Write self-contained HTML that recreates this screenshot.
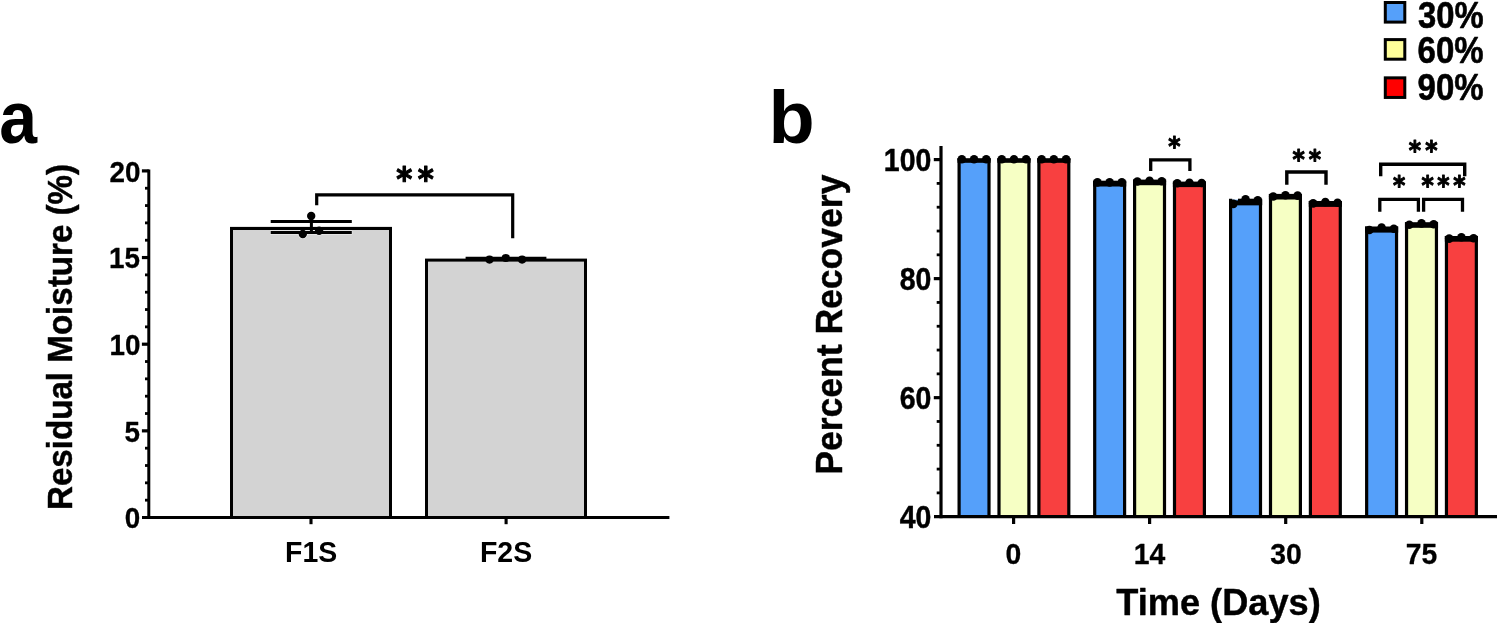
<!DOCTYPE html>
<html lang="en"><head><meta charset="utf-8"><title>Figure</title>
<style>html,body{margin:0;padding:0;background:#fff;}body{width:1497px;height:623px;overflow:hidden;}svg{display:block;}text{font-family:"Liberation Sans", sans-serif;font-weight:700;fill:#000;}text.dj{font-family:"DejaVu Sans", "Liberation Sans", sans-serif;}</style>
</head><body>
<svg width="1497" height="623" viewBox="0 0 1497 623">
<rect x="0.00" y="0.00" width="1497.00" height="623.00" fill="#ffffff"/>
<text transform="translate(-0.77,143.05) scale(0.9190,1)" font-size="74">a</text>
<text transform="translate(72.30,510.03) rotate(-90) scale(0.9636,1)" font-size="34.4" stroke="#000" stroke-linejoin="round" stroke-width="0.45">Residual Moisture (%)</text>
<rect x="231.50" y="228.40" width="159.00" height="289.10" fill="#d3d3d3" stroke="#000" stroke-width="3.00"/>
<rect x="426.50" y="260.10" width="159.00" height="257.40" fill="#d3d3d3" stroke="#000" stroke-width="3.00"/>
<line x1="148.80" y1="169.40" x2="148.80" y2="519.00" stroke="#000" stroke-width="3.00" stroke-linecap="butt"/>
<line x1="142.00" y1="517.50" x2="669.40" y2="517.50" stroke="#000" stroke-width="3.00" stroke-linecap="butt"/>
<line x1="145.00" y1="500.17" x2="148.80" y2="500.17" stroke="#000" stroke-width="2.80" stroke-linecap="butt"/>
<line x1="145.00" y1="482.84" x2="148.80" y2="482.84" stroke="#000" stroke-width="2.80" stroke-linecap="butt"/>
<line x1="145.00" y1="465.51" x2="148.80" y2="465.51" stroke="#000" stroke-width="2.80" stroke-linecap="butt"/>
<line x1="145.00" y1="448.18" x2="148.80" y2="448.18" stroke="#000" stroke-width="2.80" stroke-linecap="butt"/>
<line x1="141.90" y1="430.85" x2="148.80" y2="430.85" stroke="#000" stroke-width="3.20" stroke-linecap="butt"/>
<line x1="145.00" y1="413.52" x2="148.80" y2="413.52" stroke="#000" stroke-width="2.80" stroke-linecap="butt"/>
<line x1="145.00" y1="396.19" x2="148.80" y2="396.19" stroke="#000" stroke-width="2.80" stroke-linecap="butt"/>
<line x1="145.00" y1="378.86" x2="148.80" y2="378.86" stroke="#000" stroke-width="2.80" stroke-linecap="butt"/>
<line x1="145.00" y1="361.53" x2="148.80" y2="361.53" stroke="#000" stroke-width="2.80" stroke-linecap="butt"/>
<line x1="141.90" y1="344.20" x2="148.80" y2="344.20" stroke="#000" stroke-width="3.20" stroke-linecap="butt"/>
<line x1="145.00" y1="326.87" x2="148.80" y2="326.87" stroke="#000" stroke-width="2.80" stroke-linecap="butt"/>
<line x1="145.00" y1="309.54" x2="148.80" y2="309.54" stroke="#000" stroke-width="2.80" stroke-linecap="butt"/>
<line x1="145.00" y1="292.21" x2="148.80" y2="292.21" stroke="#000" stroke-width="2.80" stroke-linecap="butt"/>
<line x1="145.00" y1="274.88" x2="148.80" y2="274.88" stroke="#000" stroke-width="2.80" stroke-linecap="butt"/>
<line x1="141.90" y1="257.55" x2="148.80" y2="257.55" stroke="#000" stroke-width="3.20" stroke-linecap="butt"/>
<line x1="145.00" y1="240.22" x2="148.80" y2="240.22" stroke="#000" stroke-width="2.80" stroke-linecap="butt"/>
<line x1="145.00" y1="222.89" x2="148.80" y2="222.89" stroke="#000" stroke-width="2.80" stroke-linecap="butt"/>
<line x1="145.00" y1="205.56" x2="148.80" y2="205.56" stroke="#000" stroke-width="2.80" stroke-linecap="butt"/>
<line x1="145.00" y1="188.23" x2="148.80" y2="188.23" stroke="#000" stroke-width="2.80" stroke-linecap="butt"/>
<line x1="141.90" y1="170.90" x2="148.80" y2="170.90" stroke="#000" stroke-width="3.20" stroke-linecap="butt"/>
<text transform="translate(124.83,528.33) scale(0.9400,1)" font-size="29.6" stroke="#000" stroke-linejoin="round" stroke-width="0.30">0</text>
<text transform="translate(124.60,441.55) scale(0.9400,1)" font-size="29.6" stroke="#000" stroke-linejoin="round" stroke-width="0.30">5</text>
<text transform="translate(109.56,355.02) scale(0.9400,1)" font-size="29.6" stroke="#000" stroke-linejoin="round" stroke-width="0.30">10</text>
<text transform="translate(109.09,268.25) scale(0.9400,1)" font-size="29.6" stroke="#000" stroke-linejoin="round" stroke-width="0.30">15</text>
<text transform="translate(109.56,181.72) scale(0.9400,1)" font-size="29.6" stroke="#000" stroke-linejoin="round" stroke-width="0.30">20</text>
<line x1="311.00" y1="517.50" x2="311.00" y2="524.20" stroke="#000" stroke-width="3.10" stroke-linecap="butt"/>
<line x1="506.10" y1="517.50" x2="506.10" y2="524.20" stroke="#000" stroke-width="3.10" stroke-linecap="butt"/>
<text transform="translate(285.07,561.80) scale(0.9675,1)" font-size="29.4">F1S</text>
<text transform="translate(479.96,561.80) scale(0.9695,1)" font-size="29.4">F2S</text>
<line x1="270.20" y1="232.50" x2="352.30" y2="232.50" stroke="#f4f4f4" stroke-width="4.20" stroke-linecap="butt"/>
<circle cx="302.80" cy="234.00" r="4.80" fill="#f4f4f4"/>
<circle cx="319.10" cy="230.80" r="4.80" fill="#f4f4f4"/>
<line x1="230.00" y1="228.40" x2="392.00" y2="228.40" stroke="#000" stroke-width="3.00" stroke-linecap="butt"/>
<line x1="270.70" y1="221.50" x2="351.80" y2="221.50" stroke="#000" stroke-width="3.00" stroke-linecap="butt"/>
<line x1="270.70" y1="232.50" x2="351.80" y2="232.50" stroke="#000" stroke-width="3.00" stroke-linecap="butt"/>
<line x1="311.40" y1="221.50" x2="311.40" y2="232.50" stroke="#000" stroke-width="3.00" stroke-linecap="butt"/>
<circle cx="311.20" cy="216.00" r="4.20" fill="#000"/>
<circle cx="302.80" cy="234.00" r="4.20" fill="#000"/>
<circle cx="319.10" cy="230.80" r="4.20" fill="#000"/>
<line x1="465.60" y1="258.30" x2="546.40" y2="258.30" stroke="#000" stroke-width="3.20" stroke-linecap="butt"/>
<circle cx="489.50" cy="259.60" r="4.10" fill="#000"/>
<circle cx="505.80" cy="258.00" r="4.10" fill="#000"/>
<circle cx="522.10" cy="259.60" r="4.10" fill="#000"/>
<path d="M316.70 205.20 L316.70 194.90 L512.70 194.90 L512.70 238.20" fill="none" stroke="#000" stroke-width="3.20" stroke-linejoin="miter"/>
<text transform="translate(396.17,191.38) scale(0.9130,1)" font-size="33.6" letter-spacing="5.99" stroke="#000" stroke-linejoin="round" stroke-width="1.10" class="dj">**</text>
<text transform="translate(768.59,143.45) scale(1.0228,1)" font-size="74.0">b</text>
<text transform="translate(842.30,474.81) rotate(-90) scale(0.9822,1)" font-size="36.2" stroke="#000" stroke-linejoin="round" stroke-width="0.45">Percent Recovery</text>
<rect x="958.50" y="159.20" width="31.10" height="357.50" fill="#55a0fa"/>
<line x1="959.10" y1="158.20" x2="959.10" y2="516.70" stroke="#000" stroke-width="3.20" stroke-linecap="butt"/>
<line x1="989.00" y1="158.20" x2="989.00" y2="516.70" stroke="#000" stroke-width="3.20" stroke-linecap="butt"/>
<rect x="957.50" y="158.20" width="33.10" height="4.60" fill="#000"/>
<circle cx="961.85" cy="159.30" r="4.30" fill="#000"/>
<circle cx="974.05" cy="159.30" r="4.30" fill="#000"/>
<circle cx="986.25" cy="159.30" r="4.30" fill="#000"/>
<rect x="998.40" y="159.20" width="31.10" height="357.50" fill="#f6ffc4"/>
<line x1="999.00" y1="158.20" x2="999.00" y2="516.70" stroke="#000" stroke-width="3.20" stroke-linecap="butt"/>
<line x1="1028.90" y1="158.20" x2="1028.90" y2="516.70" stroke="#000" stroke-width="3.20" stroke-linecap="butt"/>
<rect x="997.40" y="158.20" width="33.10" height="4.60" fill="#000"/>
<circle cx="1001.75" cy="159.30" r="4.30" fill="#000"/>
<circle cx="1013.95" cy="159.30" r="4.30" fill="#000"/>
<circle cx="1026.15" cy="159.30" r="4.30" fill="#000"/>
<rect x="1038.30" y="159.20" width="31.10" height="357.50" fill="#f84040"/>
<line x1="1038.90" y1="158.20" x2="1038.90" y2="516.70" stroke="#000" stroke-width="3.20" stroke-linecap="butt"/>
<line x1="1068.80" y1="158.20" x2="1068.80" y2="516.70" stroke="#000" stroke-width="3.20" stroke-linecap="butt"/>
<rect x="1037.30" y="158.20" width="33.10" height="4.60" fill="#000"/>
<circle cx="1041.65" cy="159.30" r="4.30" fill="#000"/>
<circle cx="1053.85" cy="159.30" r="4.30" fill="#000"/>
<circle cx="1066.05" cy="159.30" r="4.30" fill="#000"/>
<rect x="1094.10" y="181.70" width="31.10" height="335.00" fill="#55a0fa"/>
<line x1="1094.70" y1="180.70" x2="1094.70" y2="516.70" stroke="#000" stroke-width="3.20" stroke-linecap="butt"/>
<line x1="1124.60" y1="180.70" x2="1124.60" y2="516.70" stroke="#000" stroke-width="3.20" stroke-linecap="butt"/>
<rect x="1093.10" y="180.70" width="33.10" height="5.80" fill="#000"/>
<circle cx="1097.45" cy="182.40" r="4.30" fill="#000"/>
<circle cx="1109.65" cy="182.40" r="4.30" fill="#000"/>
<circle cx="1121.85" cy="182.40" r="4.30" fill="#000"/>
<rect x="1134.00" y="180.60" width="31.10" height="336.10" fill="#f6ffc4"/>
<line x1="1134.60" y1="179.60" x2="1134.60" y2="516.70" stroke="#000" stroke-width="3.20" stroke-linecap="butt"/>
<line x1="1164.50" y1="179.60" x2="1164.50" y2="516.70" stroke="#000" stroke-width="3.20" stroke-linecap="butt"/>
<rect x="1133.00" y="179.60" width="33.10" height="5.60" fill="#000"/>
<circle cx="1137.35" cy="181.50" r="4.30" fill="#000"/>
<circle cx="1149.55" cy="180.80" r="4.30" fill="#000"/>
<circle cx="1161.75" cy="181.30" r="4.30" fill="#000"/>
<rect x="1173.90" y="182.60" width="31.10" height="334.10" fill="#f84040"/>
<line x1="1174.50" y1="181.60" x2="1174.50" y2="516.70" stroke="#000" stroke-width="3.20" stroke-linecap="butt"/>
<line x1="1204.40" y1="181.60" x2="1204.40" y2="516.70" stroke="#000" stroke-width="3.20" stroke-linecap="butt"/>
<rect x="1172.90" y="181.60" width="33.10" height="5.50" fill="#000"/>
<circle cx="1177.25" cy="183.30" r="4.30" fill="#000"/>
<circle cx="1189.45" cy="182.80" r="4.30" fill="#000"/>
<circle cx="1201.65" cy="183.00" r="4.30" fill="#000"/>
<rect x="1230.00" y="199.70" width="31.10" height="317.00" fill="#55a0fa"/>
<line x1="1230.60" y1="198.70" x2="1230.60" y2="516.70" stroke="#000" stroke-width="3.20" stroke-linecap="butt"/>
<line x1="1260.50" y1="198.70" x2="1260.50" y2="516.70" stroke="#000" stroke-width="3.20" stroke-linecap="butt"/>
<rect x="1238.00" y="198.70" width="24.10" height="6.50" fill="#000"/>
<rect x="1229.00" y="200.50" width="33.10" height="4.70" fill="#000"/>
<circle cx="1233.35" cy="203.90" r="4.30" fill="#000"/>
<circle cx="1245.55" cy="199.30" r="4.30" fill="#000"/>
<circle cx="1257.75" cy="200.40" r="4.30" fill="#000"/>
<rect x="1269.90" y="194.90" width="31.10" height="321.80" fill="#f6ffc4"/>
<line x1="1270.50" y1="193.90" x2="1270.50" y2="516.70" stroke="#000" stroke-width="3.20" stroke-linecap="butt"/>
<line x1="1300.40" y1="193.90" x2="1300.40" y2="516.70" stroke="#000" stroke-width="3.20" stroke-linecap="butt"/>
<rect x="1268.90" y="193.90" width="33.10" height="5.60" fill="#000"/>
<circle cx="1273.25" cy="196.50" r="4.30" fill="#000"/>
<circle cx="1285.45" cy="195.20" r="4.30" fill="#000"/>
<circle cx="1297.65" cy="195.60" r="4.30" fill="#000"/>
<rect x="1309.80" y="202.00" width="31.10" height="314.70" fill="#f84040"/>
<line x1="1310.40" y1="201.00" x2="1310.40" y2="516.70" stroke="#000" stroke-width="3.20" stroke-linecap="butt"/>
<line x1="1340.30" y1="201.00" x2="1340.30" y2="516.70" stroke="#000" stroke-width="3.20" stroke-linecap="butt"/>
<rect x="1308.80" y="201.00" width="33.10" height="5.90" fill="#000"/>
<circle cx="1313.15" cy="203.40" r="4.30" fill="#000"/>
<circle cx="1325.35" cy="202.10" r="4.30" fill="#000"/>
<circle cx="1337.55" cy="202.80" r="4.30" fill="#000"/>
<rect x="1366.05" y="227.50" width="31.10" height="289.20" fill="#55a0fa"/>
<line x1="1366.65" y1="226.50" x2="1366.65" y2="516.70" stroke="#000" stroke-width="3.20" stroke-linecap="butt"/>
<line x1="1396.55" y1="226.50" x2="1396.55" y2="516.70" stroke="#000" stroke-width="3.20" stroke-linecap="butt"/>
<rect x="1365.05" y="226.50" width="33.10" height="6.10" fill="#000"/>
<circle cx="1369.40" cy="230.00" r="4.30" fill="#000"/>
<circle cx="1381.60" cy="227.60" r="4.30" fill="#000"/>
<circle cx="1393.80" cy="228.70" r="4.30" fill="#000"/>
<rect x="1405.95" y="223.20" width="31.10" height="293.50" fill="#f6ffc4"/>
<line x1="1406.55" y1="222.20" x2="1406.55" y2="516.70" stroke="#000" stroke-width="3.20" stroke-linecap="butt"/>
<line x1="1436.45" y1="222.20" x2="1436.45" y2="516.70" stroke="#000" stroke-width="3.20" stroke-linecap="butt"/>
<rect x="1404.95" y="222.20" width="33.10" height="5.60" fill="#000"/>
<circle cx="1409.30" cy="224.80" r="4.30" fill="#000"/>
<circle cx="1421.50" cy="223.40" r="4.30" fill="#000"/>
<circle cx="1433.70" cy="224.30" r="4.30" fill="#000"/>
<rect x="1445.85" y="237.00" width="31.10" height="279.70" fill="#f84040"/>
<line x1="1446.45" y1="236.00" x2="1446.45" y2="516.70" stroke="#000" stroke-width="3.20" stroke-linecap="butt"/>
<line x1="1476.35" y1="236.00" x2="1476.35" y2="516.70" stroke="#000" stroke-width="3.20" stroke-linecap="butt"/>
<rect x="1444.85" y="236.00" width="33.10" height="5.70" fill="#000"/>
<circle cx="1449.20" cy="238.60" r="4.30" fill="#000"/>
<circle cx="1461.40" cy="237.20" r="4.30" fill="#000"/>
<circle cx="1473.60" cy="238.20" r="4.30" fill="#000"/>
<line x1="941.00" y1="145.90" x2="941.00" y2="518.30" stroke="#000" stroke-width="3.20" stroke-linecap="butt"/>
<line x1="934.00" y1="516.70" x2="1497.00" y2="516.70" stroke="#000" stroke-width="3.30" stroke-linecap="butt"/>
<line x1="936.70" y1="492.89" x2="941.00" y2="492.89" stroke="#000" stroke-width="2.80" stroke-linecap="butt"/>
<line x1="936.70" y1="469.09" x2="941.00" y2="469.09" stroke="#000" stroke-width="2.80" stroke-linecap="butt"/>
<line x1="936.70" y1="445.28" x2="941.00" y2="445.28" stroke="#000" stroke-width="2.80" stroke-linecap="butt"/>
<line x1="936.70" y1="421.47" x2="941.00" y2="421.47" stroke="#000" stroke-width="2.80" stroke-linecap="butt"/>
<line x1="933.80" y1="397.67" x2="941.00" y2="397.67" stroke="#000" stroke-width="3.20" stroke-linecap="butt"/>
<line x1="936.70" y1="373.86" x2="941.00" y2="373.86" stroke="#000" stroke-width="2.80" stroke-linecap="butt"/>
<line x1="936.70" y1="350.05" x2="941.00" y2="350.05" stroke="#000" stroke-width="2.80" stroke-linecap="butt"/>
<line x1="936.70" y1="326.25" x2="941.00" y2="326.25" stroke="#000" stroke-width="2.80" stroke-linecap="butt"/>
<line x1="936.70" y1="302.44" x2="941.00" y2="302.44" stroke="#000" stroke-width="2.80" stroke-linecap="butt"/>
<line x1="933.80" y1="278.63" x2="941.00" y2="278.63" stroke="#000" stroke-width="3.20" stroke-linecap="butt"/>
<line x1="936.70" y1="254.83" x2="941.00" y2="254.83" stroke="#000" stroke-width="2.80" stroke-linecap="butt"/>
<line x1="936.70" y1="231.02" x2="941.00" y2="231.02" stroke="#000" stroke-width="2.80" stroke-linecap="butt"/>
<line x1="936.70" y1="207.21" x2="941.00" y2="207.21" stroke="#000" stroke-width="2.80" stroke-linecap="butt"/>
<line x1="936.70" y1="183.41" x2="941.00" y2="183.41" stroke="#000" stroke-width="2.80" stroke-linecap="butt"/>
<line x1="933.80" y1="159.60" x2="941.00" y2="159.60" stroke="#000" stroke-width="3.20" stroke-linecap="butt"/>
<text transform="translate(899.79,527.95) scale(0.9100,1)" font-size="31.3" stroke="#000" stroke-linejoin="round" stroke-width="0.45">40</text>
<text transform="translate(899.79,408.92) scale(0.9100,1)" font-size="31.3" stroke="#000" stroke-linejoin="round" stroke-width="0.45">60</text>
<text transform="translate(899.79,289.88) scale(0.9100,1)" font-size="31.3" stroke="#000" stroke-linejoin="round" stroke-width="0.45">80</text>
<text transform="translate(883.86,170.85) scale(0.9100,1)" font-size="31.3" stroke="#000" stroke-linejoin="round" stroke-width="0.45">100</text>
<line x1="1013.60" y1="516.70" x2="1013.60" y2="524.00" stroke="#000" stroke-width="3.20" stroke-linecap="butt"/>
<text transform="translate(1005.57,563.80) scale(0.9350,1)" font-size="30.3" stroke="#000" stroke-linejoin="round" stroke-width="0.30">0</text>
<line x1="1149.60" y1="516.70" x2="1149.60" y2="524.00" stroke="#000" stroke-width="3.20" stroke-linecap="butt"/>
<text transform="translate(1133.80,563.80) scale(0.9350,1)" font-size="30.3" stroke="#000" stroke-linejoin="round" stroke-width="0.30">14</text>
<line x1="1285.70" y1="516.70" x2="1285.70" y2="524.00" stroke="#000" stroke-width="3.20" stroke-linecap="butt"/>
<text transform="translate(1270.32,563.80) scale(0.9350,1)" font-size="30.3" stroke="#000" stroke-linejoin="round" stroke-width="0.30">30</text>
<line x1="1421.80" y1="516.70" x2="1421.80" y2="524.00" stroke="#000" stroke-width="3.20" stroke-linecap="butt"/>
<text transform="translate(1405.84,563.80) scale(0.9350,1)" font-size="30.3" stroke="#000" stroke-linejoin="round" stroke-width="0.30">75</text>
<text transform="translate(1116.25,614.50) scale(1.0002,1)" font-size="36.2" stroke="#000" stroke-linejoin="round" stroke-width="0.40">Time (Days)</text>
<path d="M1150.70 171.00 L1150.70 159.80 L1189.90 159.80 L1189.90 171.00" fill="none" stroke="#000" stroke-width="3.30" stroke-linejoin="miter"/>
<text transform="translate(1168.17,156.10) scale(0.9000,1)" font-size="26.1" stroke="#000" stroke-linejoin="round" stroke-width="1.00" class="dj">*</text>
<path d="M1286.80 184.80 L1286.80 172.00 L1326.00 172.00 L1326.00 184.80" fill="none" stroke="#000" stroke-width="3.40" stroke-linejoin="miter"/>
<text transform="translate(1292.60,168.60) scale(0.9000,1)" font-size="26.1" letter-spacing="4.31" stroke="#000" stroke-linejoin="round" stroke-width="1.00" class="dj">**</text>
<path d="M1380.70 176.30 L1380.70 164.30 L1464.70 164.30 L1464.70 176.30" fill="none" stroke="#000" stroke-width="3.40" stroke-linejoin="miter"/>
<text transform="translate(1408.80,160.25) scale(0.9000,1)" font-size="26.1" letter-spacing="4.53" stroke="#000" stroke-linejoin="round" stroke-width="1.00" class="dj">**</text>
<path d="M1379.80 211.70 L1379.80 199.30 L1418.40 199.30 L1418.40 211.70" fill="none" stroke="#000" stroke-width="3.30" stroke-linejoin="miter"/>
<path d="M1423.60 211.70 L1423.60 199.30 L1462.50 199.30 L1462.50 211.70" fill="none" stroke="#000" stroke-width="3.30" stroke-linejoin="miter"/>
<text transform="translate(1393.02,195.15) scale(0.9000,1)" font-size="26.1" stroke="#000" stroke-linejoin="round" stroke-width="1.00" class="dj">*</text>
<text transform="translate(1421.40,195.15) scale(0.9000,1)" font-size="26.1" letter-spacing="4.06" stroke="#000" stroke-linejoin="round" stroke-width="1.00" class="dj">***</text>
<rect x="1385.30" y="2.50" width="19.50" height="19.60" fill="#55a0fa" stroke="#000" stroke-width="3.00"/>
<text transform="translate(1418.06,27.68) scale(0.8716,1)" font-size="37.6" stroke="#000" stroke-linejoin="round" stroke-width="0.60">30%</text>
<rect x="1385.30" y="39.60" width="19.50" height="19.60" fill="#ffff99" stroke="#000" stroke-width="3.00"/>
<text transform="translate(1417.62,62.52) scale(0.8776,1)" font-size="37.6" stroke="#000" stroke-linejoin="round" stroke-width="0.60">60%</text>
<rect x="1385.30" y="77.85" width="19.50" height="19.60" fill="#ff0000" stroke="#000" stroke-width="3.00"/>
<text transform="translate(1417.62,99.92) scale(0.8776,1)" font-size="37.6" stroke="#000" stroke-linejoin="round" stroke-width="0.60">90%</text>
</svg>
</body></html>
